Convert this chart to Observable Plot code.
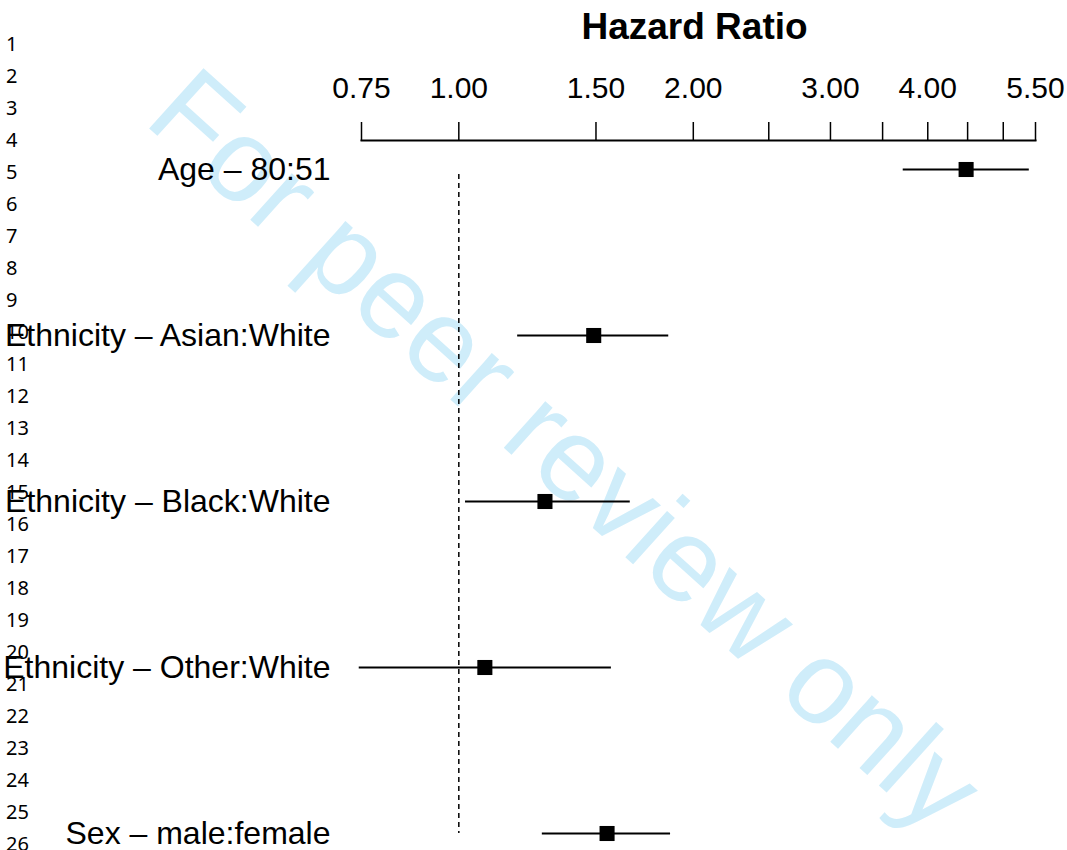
<!DOCTYPE html>
<html>
<head>
<meta charset="utf-8">
<script src="https://cdn.jsdelivr.net/npm/d3@7"></script>
<script src="https://cdn.jsdelivr.net/npm/@observablehq/plot@0.6"></script>
<style>
  body { margin: 0; background: #fff; }
  #page { position: relative; width: 1067px; height: 850px; overflow: hidden; }
  #page svg { position: absolute; left: 0; top: 0; }
</style>
</head>
<body>
<div id="page"></div>
<script>
// Cox model hazard ratios with 95% confidence intervals
const labels = [
  "Age – 80:51",
  "Ethnicity – Asian:White",
  "Ethnicity – Black:White",
  "Ethnicity – Other:White",
  "Sex – male:female"
];
const hazardRatio = [4.48, 1.49, 1.29, 1.08, 1.55];
const lowerCI = [3.72, 1.19, 1.02, 0.745, 1.28];
const upperCI = [5.40, 1.86, 1.66, 1.57, 1.87];

// Axis ticks: every tick position, and the ones that carry a label
const tickValues = [0.75, 1, 1.5, 2, 2.5, 3, 3.5, 4, 4.5, 5, 5.5];
const tickLabels = [0.75, 1, 1.5, 2, 3, 4, 5.5];

// Manuscript line numbers down the left margin
const lineNumbers = d3.range(1, 27);
const watermarkText = "For peer review only";

const rows = labels.map((label, i) => ({
  label, hr: hazardRatio[i], lower: lowerCI[i], upper: upperCI[i]
}));

const W = 1067, H = 850;
const page = d3.select("#page");

// Background layer: watermark and line numbers
const bg = page.append("svg").attr("width", W).attr("height", H);
bg.append("text")
  .attr("transform", "translate(142,122) rotate(42)")
  .attr("font-family", "Liberation Sans, Arial, sans-serif")
  .attr("font-size", 118)
  .attr("fill", "#cfedfa")
  .text(watermarkText);
bg.append("g")
  .attr("font-family", "Noto Sans, sans-serif")
  .attr("font-size", 20)
  .selectAll("text")
  .data(lineNumbers)
  .join("text")
  .attr("x", 6)
  .attr("y", (d, i) => 50.5 + i * 32.03)
  .text(d => d);

const font = "Liberation Sans, Arial, Helvetica, sans-serif";

const chart = Plot.plot({
  width: W,
  height: H,
  marginLeft: 361,
  marginRight: 32,
  marginTop: 140,
  marginBottom: 16,
  style: { fontFamily: font, background: "transparent", color: "#000", overflow: "visible" },
  x: { type: "log", domain: [0.75, 5.5] },
  y: { type: "point", domain: labels, range: [167, 834], padding: 0 },
  marks: [
    // reference line at HR = 1
    Plot.ruleX([1], {
      y1: () => labels[0], y2: () => labels[labels.length - 1],
      insetTop: 5, stroke: "#000", strokeWidth: 1.5, strokeDasharray: "5,4"
    }),
    // confidence intervals
    Plot.ruleY(rows, { y: "label", x1: "lower", x2: "upper", stroke: "#000", strokeWidth: 2 }),
    // point estimates
    Plot.dot(rows, { x: "hr", y: "label", symbol: "square", r: 8.5, fill: "#000", stroke: null }),
    // top axis
    Plot.axisX({
      anchor: "top",
      ticks: tickValues,
      tickSize: 19,
      tickPadding: 24,
      strokeWidth: 1.5,
      fontSize: 30,
      label: null,
      tickFormat: d => tickLabels.includes(d) ? d.toFixed(2) : ""
    }),
    Plot.frame({ anchor: "top", strokeWidth: 2 }),
    // row labels
    Plot.axisY({ anchor: "left", tickSize: 0, tickPadding: 31, fontSize: 32, label: null }),
    // axis title
    Plot.text(["Hazard Ratio"], {
      text: d => d, frameAnchor: "top", lineAnchor: "bottom",
      dy: -102, dx: -4, fontSize: 37, fontWeight: "bold"
    })
  ]
});

page.node().appendChild(chart);
</script>
</body>
</html>
